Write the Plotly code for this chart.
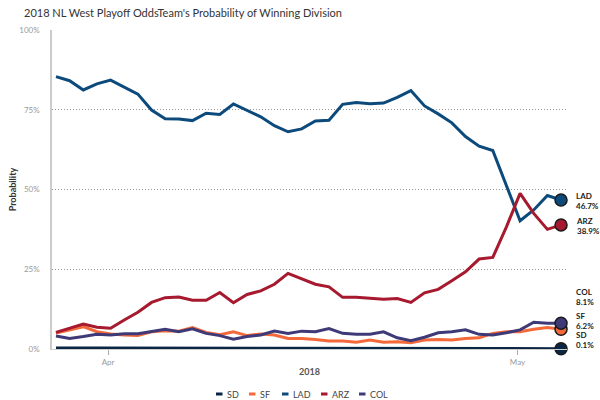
import pandas as pd
import plotly.graph_objects as go

dates = pd.date_range("2018-03-28 04:30", periods=38, freq="D")

teams = ["SD", "SF", "LAD", "ARZ", "COL"]
colors = {"SD": "#0b2545", "SF": "#f4693a", "LAD": "#0d4a7c", "ARZ": "#a6192e", "COL": "#3e3a78"}

sd = [0.3, 0.4, 0.3, 0.3, 0.3, 0.2, 0.3, 0.2, 0.2, 0.3, 0.2, 0.2, 0.2, 0.1, 0.2, 0.2, 0.2, 0.1, 0.2,
      0.2, 0.1, 0.1, 0.1, 0.1, 0.1, 0.2, 0.1, 0.1, 0.1, 0.1, 0.1, 0.1, 0.1, 0.1, 0.1, 0.1, 0.1, 0.1]
sf = [5.0, 6.0, 7.0, 5.4, 4.7, 4.4, 4.2, 5.4, 5.7, 5.6, 6.7, 5.2, 4.5, 5.4, 4.2, 4.7, 4.4, 3.3, 3.3,
      3.0, 2.5, 2.5, 2.1, 2.8, 2.1, 2.3, 2.0, 2.8, 3.0, 2.8, 3.3, 3.5, 4.9, 5.4, 5.4, 6.2, 6.7, 6.2]
lad = [85.4, 84.1, 81.2, 83.1, 84.3, 82.0, 79.9, 74.9, 72.2, 72.1, 71.6, 73.9, 73.5, 76.8, 74.9, 72.8,
       70.0, 68.1, 69.0, 71.5, 71.7, 76.7, 77.3, 76.9, 77.1, 78.9, 81.0, 76.2, 73.7, 70.9, 66.6, 63.6,
       62.2, 51.2, 40.2, 43.6, 48.1, 46.7]
arz = [5.2, 6.5, 7.8, 6.8, 6.5, 9.1, 11.5, 14.6, 16.1, 16.3, 15.3, 15.3, 17.7, 14.5, 17.1, 18.2, 20.3,
       23.7, 21.9, 20.3, 19.5, 16.2, 16.2, 15.8, 15.6, 15.8, 14.6, 17.6, 18.7, 21.4, 24.2, 28.2, 28.7,
       38.3, 48.8, 42.5, 37.5, 38.9]
col = [4.1, 3.3, 3.9, 4.6, 4.4, 4.8, 4.8, 5.4, 6.2, 5.4, 6.3, 4.9, 4.2, 3.1, 3.9, 4.4, 5.6, 4.9, 5.6,
       5.4, 6.4, 4.9, 4.6, 4.6, 5.4, 3.5, 2.6, 3.7, 5.1, 5.4, 6.0, 4.6, 4.4, 5.1, 6.0, 8.4, 8.1, 8.1]

y_ticks = [0, 25, 50, 75, 100]
y_tick_text = ["0%", "25%", "50%", "75%", "100%"]

series = {"SD": sd, "SF": sf, "LAD": lad, "ARZ": arz, "COL": col}
label_shift = {"SD": 9.0, "SF": 8.5, "LAD": -1, "ARZ": -1, "COL": 25.7}

FONT = "Lato, 'Open Sans', sans-serif"

fig = go.Figure()
for t in teams:
    fig.add_trace(go.Scatter(x=list(dates), y=series[t], mode="lines", name=t,
                             line=dict(color=colors[t], width=3), showlegend=False,
                             hoverinfo="skip"))
for t in teams:
    fig.add_trace(go.Scatter(x=[dates[-1]], y=[series[t][-1]], mode="markers", name=t,
                             marker=dict(color=colors[t], size=12, line=dict(color="#1b1b1b", width=1.5)),
                             showlegend=False, cliponaxis=False, hoverinfo="skip"))

annotations = []
for t in teams:
    annotations.append(dict(x=dates[-1], y=series[t][-1], xref="x", yref="y",
                            text=f"<b>{t}</b><br><b>{series[t][-1]:.1f}%</b>",
                            showarrow=False, xanchor="left", yanchor="middle", align="left",
                            xshift=13, yshift=label_shift[t],
                            font=dict(family=FONT, size=8, color="#222")))

# axis titles
annotations.append(dict(x=-0.076, y=0.5, xref="paper", yref="paper", text="<b>Probability</b>",
                        textangle=-90, showarrow=False, xanchor="center", yanchor="middle",
                        font=dict(family=FONT, size=9, color="#333")))
annotations.append(dict(x=0.5, y=-0.072, xref="paper", yref="paper", text="<b>2018</b>",
                        showarrow=False, xanchor="center", yanchor="middle",
                        font=dict(family=FONT, size=9, color="#555")))

# legend (manual)
shapes = []
leg_sym = {"SD": 216, "SF": 249, "LAD": 282, "ARZ": 321, "COL": 359}
ly = (349 - 394) / 319
for t in teams:
    x0 = (leg_sym[t] - 52) / 515
    x1 = (leg_sym[t] + 6.5 - 52) / 515
    shapes.append(dict(type="line", xref="paper", yref="paper", x0=x0, x1=x1, y0=ly, y1=ly,
                       line=dict(color=colors[t], width=3)))
    annotations.append(dict(x=(leg_sym[t] + 9 - 52) / 515, y=ly, xref="paper", yref="paper",
                            text=t, showarrow=False, xanchor="left", yanchor="middle",
                            font=dict(family=FONT, size=9, color="#444")))

fig.update_layout(
    width=600, height=400,
    margin=dict(l=52, r=33, t=30, b=51),
    paper_bgcolor="white", plot_bgcolor="white",
    title=dict(text="2018 NL West Playoff OddsTeam's Probability of Winning Division",
               x=24 / 600, xanchor="left", xref="container", y=1 - 13 / 400, yanchor="middle",
               font=dict(family=FONT, size=11, color="#333")),
    showlegend=False,
    annotations=annotations,
    shapes=shapes,
    xaxis=dict(type="date", range=["2018-03-27 21:30", "2018-05-04 15:00"],
               tickvals=["2018-04-01", "2018-05-01"], ticktext=["Apr", "May"],
               ticks="outside", ticklen=5, tickcolor="#aaa", tickwidth=1,
               showgrid=False, showline=True, linecolor="#ccc", linewidth=1, zeroline=False,
               tickfont=dict(family=FONT, size=8, color="#999")),
    yaxis=dict(range=[0, 100], tickvals=y_ticks, ticktext=y_tick_text,
               showgrid=True, gridcolor="#999", griddash="1px,2px", gridwidth=1,
               showline=True, linecolor="#ccc", linewidth=1.5, zeroline=False,
               ticks="outside", ticklen=9, tickcolor="rgba(0,0,0,0)",
               tickfont=dict(family=FONT, size=8, color="#999")),
)

fig.write_html("out.html", config={"displayModeBar": False},
               post_script="document.body.style.margin='0';document.body.style.overflow='hidden';")
